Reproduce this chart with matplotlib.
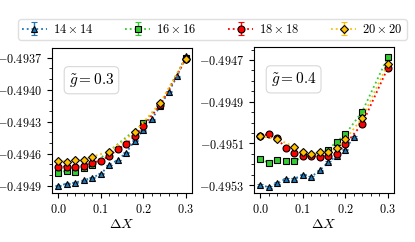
import matplotlib
matplotlib.use("Agg")
import matplotlib.pyplot as plt
from matplotlib.ticker import AutoMinorLocator, FuncFormatter, MultipleLocator, FixedLocator

plt.rcParams['mathtext.fontset'] = 'cm'
plt.rcParams['font.family'] = ['DejaVu Serif']
plt.rcParams['font.size'] = 9

labels = [r'$14\times14$', r'$16\times16$', r'$18\times18$', r'$20\times20$']
colors = ['#1f77b4', '#33cc33', '#ff0000', '#ffc000']
markers = ['^', 's', 'o', 'D']
err = 0.000004

# ---- g = 0.3 panel ----
x03_blue = [0.0, 0.02, 0.04, 0.06, 0.08, 0.10, 0.12, 0.14, 0.16, 0.18, 0.20, 0.22, 0.24, 0.26, 0.28, 0.30]
y03_blue = [-0.49490, -0.494884, -0.494872, -0.49485, -0.494825, -0.494791, -0.494707, -0.49466,
            -0.494591, -0.494479, -0.49438, -0.49428, -0.494155, -0.494021, -0.493875, -0.493684]
x03_green = [0.0, 0.02, 0.04, 0.06, 0.08, 0.20, 0.24, 0.30]
y03_green = [-0.494779, -0.49476, -0.494769, -0.494738, -0.494707, -0.494317, -0.49414, -0.49370]
x03_red = [0.0, 0.02, 0.04, 0.06, 0.08, 0.10, 0.12, 0.14, 0.16, 0.18, 0.20, 0.24, 0.30]
y03_red = [-0.494722, -0.494722, -0.494722, -0.494713, -0.494685, -0.494666, -0.494623, -0.49456,
           -0.49451, -0.494436, -0.494342, -0.494146, -0.493716]
x03_yellow = [0.0, 0.02, 0.04, 0.06, 0.08, 0.12, 0.18, 0.24, 0.30]
y03_yellow = [-0.494666, -0.494676, -0.49466, -0.49466, -0.494629, -0.494582, -0.494400, -0.494125, -0.493709]
yticks03 = [-0.4949, -0.4946, -0.4943, -0.4940, -0.4937]

# ---- g = 0.4 panel ----
x04_blue = [0.0, 0.02, 0.04, 0.06, 0.08, 0.10, 0.12, 0.14, 0.16, 0.18, 0.20, 0.22]
y04_blue = [-0.49530, -0.49531, -0.49529, -0.49527, -0.49527, -0.49525, -0.49526, -0.49523,
            -0.49519, -0.49516, -0.49513, -0.49507]
x04_green = [0.0, 0.02, 0.04, 0.06, 0.08, 0.16, 0.18, 0.20, 0.24, 0.30]
y04_green = [-0.495177, -0.495193, -0.49518, -0.495185, -0.495183, -0.49513, -0.495092, -0.495057,
             -0.494948, -0.494688]
x04_red = [0.0, 0.02, 0.04, 0.06, 0.08, 0.10, 0.12, 0.14, 0.16, 0.18, 0.20, 0.24, 0.30]
y04_red = [-0.495065, -0.495055, -0.495076, -0.495124, -0.495148, -0.495162, -0.49516, -0.495164,
           -0.49516, -0.49515, -0.495105, -0.495007, -0.49474]
x04_yellow = [0.0, 0.04, 0.08, 0.10, 0.12, 0.14, 0.16, 0.18, 0.20, 0.24, 0.30]
y04_yellow = [-0.495065, -0.49508, -0.495116, -0.49514, -0.495153, -0.495143, -0.49514, -0.495124,
              -0.495081, -0.49498, -0.49472]
yticks04 = [-0.4953, -0.4951, -0.4949, -0.4947]

xticks = [0.0, 0.1, 0.2, 0.3]

panels = [
    (r'$\tilde{g} = 0.3$', [(x03_blue, y03_blue), (x03_green, y03_green), (x03_red, y03_red), (x03_yellow, y03_yellow)],
     (-0.49497, -0.49361), yticks03),
    (r'$\tilde{g} = 0.4$', [(x04_blue, y04_blue), (x04_green, y04_green), (x04_red, y04_red), (x04_yellow, y04_yellow)],
     (-0.495338, -0.494638), yticks04),
]

fig = plt.figure(figsize=(4.15, 2.42), dpi=100)
axes = [fig.add_axes([52/415, 49/242, 140/415, 145/242]),
        fig.add_axes([254/415, 49/242, 140/415, 146/242])]

handles = []
for ax, (title, series, ylim, yticks) in zip(axes, panels):
    for i, (xs, ys) in enumerate(series):
        h = ax.errorbar(xs, ys, yerr=err, color=colors[i], ls=':', lw=1.3,
                        marker=markers[i], ms=5 if markers[i] != 'D' else 4.3,
                        mec='black', mew=0.8, mfc=colors[i], capsize=2.5,
                        elinewidth=1.0, label=labels[i])
        if ax is axes[0]:
            handles.append(h)
    ax.set_xlim(-0.015, 0.315)
    ax.set_ylim(*ylim)
    ax.xaxis.set_major_locator(FixedLocator(xticks))
    ax.yaxis.set_major_locator(FixedLocator(yticks))
    ax.xaxis.set_minor_locator(AutoMinorLocator(5))
    step = yticks[1] - yticks[0]
    ax.yaxis.set_minor_locator(AutoMinorLocator(3 if step > 0.00025 else 4))
    ax.xaxis.set_major_formatter(FuncFormatter(lambda v, p: r'$%.1f$' % v))
    ax.yaxis.set_major_formatter(FuncFormatter(lambda v, p: r'$%.4f$' % v))
    ax.tick_params(labelsize=8.8)
    ax.set_xlabel(r'$\Delta X$', fontsize=10, labelpad=1)
    ax.text(0.12, 0.84, title, transform=ax.transAxes, fontsize=11, va='top', ha='left',
            bbox=dict(boxstyle='round,pad=0.3', fc='white', ec='#d8d8d8', lw=0.8))

fig.legend(handles=handles, labels=labels, loc='upper center', bbox_to_anchor=(0.512, 1 - 13/242),
           ncol=4, fontsize=9, columnspacing=2.5, handlelength=2.0, handletextpad=0.5,
           borderpad=0.3, frameon=True, fancybox=True, edgecolor='#d8d8d8')

fig.savefig('out.png', dpi=100)
